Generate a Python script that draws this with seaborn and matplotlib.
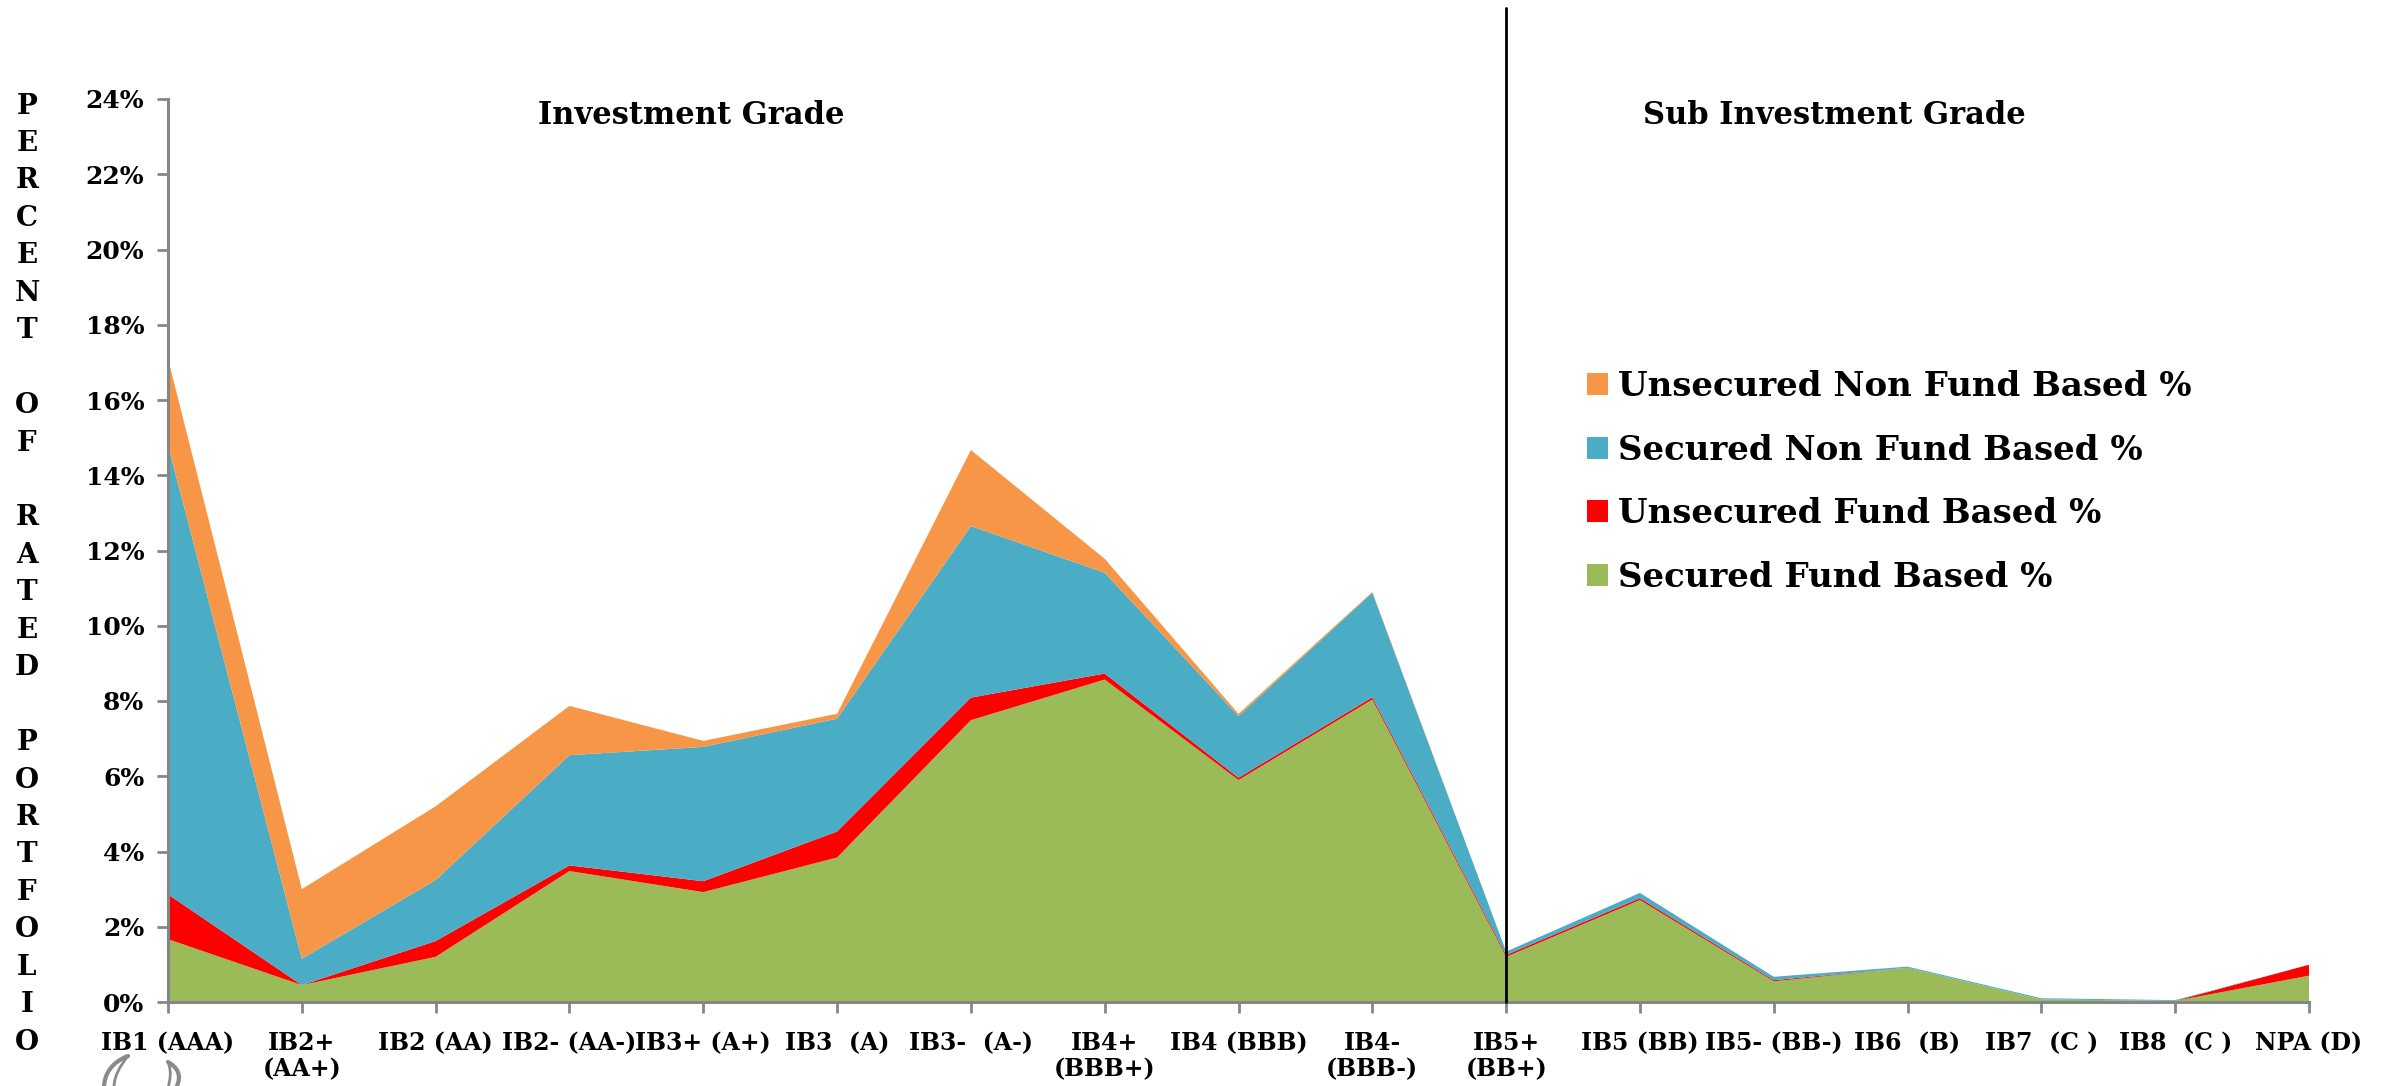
import numpy as np
import pandas as pd
import matplotlib
matplotlib.use("Agg")
import matplotlib.pyplot as plt
import seaborn as sns
from matplotlib.patches import Patch, PathPatch
from matplotlib.path import Path
from matplotlib.ticker import PercentFormatter, FixedLocator

# ---------------- data ----------------
categories = ["IB1 (AAA)", "IB2+\n(AA+)", "IB2 (AA)", "IB2- (AA-)", "IB3+ (A+)",
              "IB3  (A)", "IB3-  (A-)", "IB4+\n(BBB+)", "IB4 (BBB)", "IB4-\n(BBB-)",
              "IB5+\n(BB+)", "IB5 (BB)", "IB5- (BB-)", "IB6  (B)", "IB7  (C )",
              "IB8  (C )", "NPA (D)"]

secured_fund = [1.67, 0.45, 1.20, 3.48, 2.92, 3.84, 7.49, 8.57, 5.90, 8.04,
                1.20, 2.71, 0.55, 0.91, 0.07, 0.03, 0.70]
unsecured_fund = [1.19, 0.00, 0.42, 0.15, 0.29, 0.69, 0.60, 0.16, 0.06, 0.06,
                  0.05, 0.05, 0.03, 0.00, 0.00, 0.00, 0.29]
secured_non_fund = [11.94, 0.70, 1.62, 2.93, 3.57, 3.00, 4.56, 2.68, 1.64, 2.78,
                    0.09, 0.14, 0.09, 0.03, 0.03, 0.02, 0.00]
unsecured_non_fund = [2.30, 1.85, 1.96, 1.31, 0.16, 0.13, 2.02, 0.37, 0.06, 0.02,
                      0.00, 0.00, 0.00, 0.00, 0.00, 0.00, 0.00]

series_names = ["Secured Fund Based %", "Unsecured Fund Based %",
                "Secured Non Fund Based %", "Unsecured Non Fund Based %"]
series_colors = ["#9BBB59", "#FF0000", "#4BACC6", "#F79646"]
ytick_values = list(range(0, 25, 2))
axis_label_text = "PERCENT OF RATED PORTFOLIO"
group_titles = ["Investment Grade", "Sub Investment Grade"]
split_category = 10

df = pd.DataFrame({
    "category": categories,
    series_names[0]: secured_fund,
    series_names[1]: unsecured_fund,
    series_names[2]: secured_non_fund,
    series_names[3]: unsecured_non_fund,
})

# ---------------- style ----------------
sns.set_theme(style="white")
plt.rcParams["font.family"] = ["DejaVu Serif", "DejaVu Sans"]
plt.rcParams["font.weight"] = "bold"
plt.rcParams["text.color"] = "black"
plt.rcParams["axes.labelcolor"] = "black"
plt.rcParams["xtick.color"] = "black"
plt.rcParams["ytick.color"] = "black"

W, H = 2386, 1086
fig = plt.figure(figsize=(W / 100, H / 100), dpi=100)
fig.patch.set_facecolor("white")

x0, x1 = 168, 2309
y0, y1 = 1002, 99
ax = fig.add_axes([x0 / W, 1 - y0 / H, (x1 - x0) / W, (y0 - y1) / H])
ax.set_facecolor("white")

xs = np.arange(len(df))
ax.stackplot(xs, *[df[n].values for n in series_names],
             colors=series_colors, linewidth=0, edgecolor="none")

ax.set_xlim(0, len(df) - 1)
ax.set_ylim(0, 24)
ax.yaxis.set_major_locator(FixedLocator(ytick_values))
ax.yaxis.set_major_formatter(PercentFormatter(decimals=0))
ax.set_xticks(xs)
ax.set_xticklabels(df["category"], fontsize=17, fontweight="bold",
                   linespacing=1.12, va="top", color="black")
for lab in ax.get_yticklabels():
    lab.set_fontsize(18)
    lab.set_fontweight("bold")
    lab.set_color("black")

axis_grey = "#868686"
for side in ["top", "right"]:
    ax.spines[side].set_visible(False)
for side in ["left", "bottom"]:
    ax.spines[side].set_color(axis_grey)
    ax.spines[side].set_linewidth(2.2)
ax.tick_params(axis="y", direction="out", length=8, width=2, color=axis_grey,
               left=True, pad=9, labelcolor="black")
ax.tick_params(axis="x", direction="out", length=8, width=2, color=axis_grey,
               bottom=True, pad=13, labelcolor="black")
ax.grid(False)

# vertical divider between investment and sub-investment grade
ax.axvline(split_category, ymin=0, ymax=(y0 - 8) / (y0 - y1), color="black",
           lw=2, clip_on=False, zorder=5)

# group titles
fig.text(691 / W, 1 - 116 / H, group_titles[0], ha="center", va="center",
         fontsize=22, fontweight="bold", color="black")
fig.text(1834 / W, 1 - 116 / H, group_titles[1], ha="center", va="center",
         fontsize=22, fontweight="bold", color="black")

# stacked vertical axis label
row = 0
for ch in axis_label_text:
    if ch != " ":
        fig.text(27 / W, 1 - (106 + row * 37.45) / H, ch, ha="center",
                 va="center", fontsize=20, fontweight="bold", color="black")
    row += 1

# legend (top series first)
handles = [Patch(facecolor=series_colors[i], edgecolor="none") for i in [3, 2, 1, 0]]
labels = [series_names[i] for i in [3, 2, 1, 0]]
leg = fig.legend(handles, labels, loc="upper left",
                 bbox_to_anchor=(1587 / W, 1 - 370 / H),
                 bbox_transform=fig.transFigure, frameon=False,
                 prop={"family": "DejaVu Serif", "weight": "bold", "size": 24.5},
                 handlelength=0.62, handleheight=0.62, handletextpad=0.3,
                 labelspacing=0.9, borderpad=0, borderaxespad=0)
for t in leg.get_texts():
    t.set_color("black")

# decorative clipped logo strokes at bottom left
def stroke(verts, lw):
    codes = [Path.MOVETO] + [Path.CURVE4] * (len(verts) - 1)
    p = Path([(vx / W, 1 - vy / H) for vx, vy in verts], codes)
    fig.add_artist(PathPatch(p, transform=fig.transFigure, fill=False,
                             edgecolor="#8a8a8a", lw=lw, capstyle="round"))

stroke([(128, 1056), (112, 1062), (104, 1074), (104, 1088)], 3)
stroke([(128, 1056), (120, 1066), (114, 1076), (114, 1088)], 2)
stroke([(168, 1062), (182, 1070), (180, 1080), (176, 1088)], 3)
stroke([(168, 1062), (172, 1072), (170, 1080), (168, 1088)], 2)

fig.savefig("out.png", dpi=100, facecolor="white")
